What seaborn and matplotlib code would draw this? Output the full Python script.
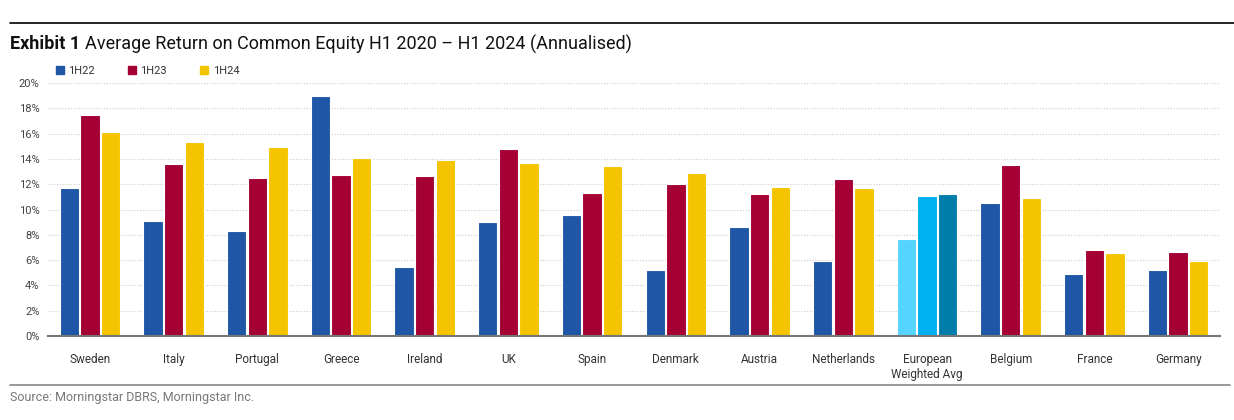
import matplotlib
matplotlib.use("Agg")
import matplotlib.pyplot as plt
import matplotlib.patches as mpatches
from matplotlib.lines import Line2D
import seaborn as sns
import pandas as pd

paises = ["Sweden", "Italy", "Portugal", "Greece", "Ireland", "UK", "Spain", "Denmark",
          "Austria", "Netherlands", "European\nWeighted Avg", "Belgium", "France", "Germany"]
periodos = ["1H22", "1H23", "1H24"]
roe_1h22 = [11.7, 9.1, 8.3, 19.0, 5.45, 9.05, 9.6, 5.25, 8.6, 5.95, 7.65, 10.5, 4.9, 5.25]
roe_1h23 = [17.5, 13.6, 12.5, 12.75, 12.65, 14.8, 11.3, 12.05, 11.2, 12.4, 11.05, 13.5, 6.8, 6.65]
roe_1h24 = [16.1, 15.3, 14.95, 14.05, 13.95, 13.65, 13.4, 12.9, 11.8, 11.7, 11.2, 10.9, 6.6, 5.9]
yticks = [0, 2, 4, 6, 8, 10, 12, 14, 16, 18, 20]

colores = ["#1F56A6", "#A50034", "#F5C400"]
colores_europa = ["#55D4FF", "#00B0F0", "#007DAA"]

sns.set_theme(style="white")
plt.rcParams["font.family"] = ["Roboto", "DejaVu Sans"]

df = pd.DataFrame({
    "pais": paises * 3,
    "periodo": [p for p in periodos for _ in paises],
    "roe": roe_1h22 + roe_1h23 + roe_1h24,
})

fig = plt.figure(figsize=(12.34, 4.2), dpi=100)
ax = fig.add_axes([48 / 1234, 1 - 336 / 420, 1172 / 1234, 253 / 420])

sns.barplot(data=df, x="pais", y="roe", hue="periodo", order=paises, hue_order=periodos,
            palette=colores, saturation=1, width=0.74, gap=0.06, edgecolor="white",
            linewidth=0.8, errorbar=None, legend=False, ax=ax)

idx_europa = paises.index("European\nWeighted Avg")
for i, cont in enumerate(ax.containers):
    cont[idx_europa].set_facecolor(colores_europa[i])

ax.set_xlim(-0.5, len(paises) - 0.5)
ax.set_ylim(0, 20)
ax.set_yticks(yticks)
ax.set_yticklabels([f"{t}%" for t in yticks], fontsize=8, color="#444444")
ax.tick_params(axis="x", labelsize=8.5, colors="#333333", length=0, pad=12)
ax.tick_params(axis="y", length=0, pad=6)
ax.set_xlabel("")
ax.set_ylabel("")
ax.yaxis.grid(True, linestyle=(0, (1, 1.5)), color="#cccccc", linewidth=0.8)
ax.set_axisbelow(True)
for lado in ["top", "right", "left"]:
    ax.spines[lado].set_visible(False)
ax.spines["bottom"].set_color("#777777")
ax.spines["bottom"].set_linewidth(1.5)
ax.spines["bottom"].set_zorder(5)

handles = [mpatches.Patch(color=c, label=p) for c, p in zip(colores, periodos)]
fig.legend(handles=handles, loc="center left", bbox_to_anchor=(46 / 1234, 1 - 71 / 420),
           ncol=3, frameon=False, fontsize=8, handlelength=0.7, handleheight=0.7,
           handletextpad=0.4, columnspacing=3.0, labelcolor="#333333")

# lineas de encabezado y pie
fig.add_artist(Line2D([10 / 1234, 1], [1 - 23 / 420] * 2, color="black", linewidth=1.2))
fig.add_artist(Line2D([10 / 1234, 1230 / 1234], [1 - 385 / 420] * 2, color="#888888", linewidth=1.2))

t1 = fig.text(10 / 1234, 1 - 44 / 420, "Exhibit 1", fontsize=13, fontweight="bold",
              va="center", color="#111111")
fig.canvas.draw()
x_fin = t1.get_window_extent().x1 / 1234
fig.text(x_fin + 5 / 1234, 1 - 44 / 420,
         "Average Return on Common Equity H1 2020 – H1 2024 (Annualised)",
         fontsize=13, va="center", color="#111111")
fig.text(10 / 1234, 1 - 398 / 420, "Source: Morningstar DBRS, Morningstar Inc.", fontsize=9,
         va="center", color="#777777")

fig.savefig("out.png", dpi=100)
